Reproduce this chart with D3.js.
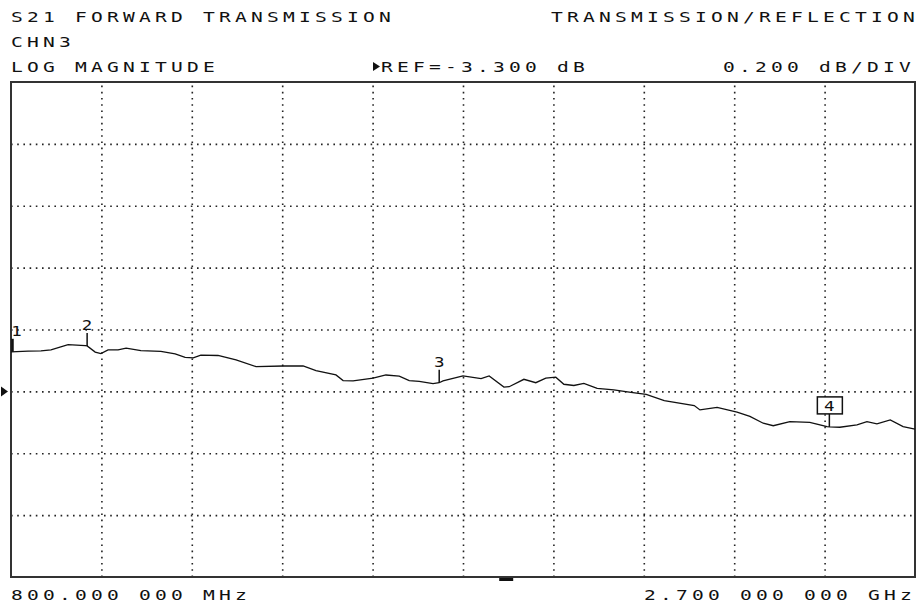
<!DOCTYPE html>
<html>
<head>
<meta charset="utf-8">
<script src="https://cdn.jsdelivr.net/npm/d3@7"></script>
<style>
  body { margin:0; background:#fff; }
  svg text { font-family: "DejaVu Sans Mono", "Liberation Mono", monospace; fill:#111; }
</style>
</head>
<body>
<svg width="919" height="607"></svg>
<script>
// trace: frequency (MHz) vs S21 (dB)
const freqMHz = [800, 836, 863, 884, 920, 956, 960, 977, 989, 1004, 1025, 1042, 1073, 1115, 1145, 1166, 1183, 1199, 1235,
  1273, 1315, 1372, 1414, 1441, 1483, 1498, 1519, 1561, 1588, 1616, 1637, 1658, 1687, 1700, 1708, 1750,
  1788, 1805, 1836, 1847, 1878, 1903, 1924, 1945, 1962, 1983, 2004, 2032, 2067, 2103, 2135, 2173,
  2236, 2248, 2284, 2326, 2353, 2381, 2402, 2437, 2479, 2515, 2521, 2542, 2578, 2599, 2620, 2648, 2675, 2700];
const magDb = [-3.172, -3.170, -3.169, -3.166, -3.149, -3.152, -3.153, -3.173, -3.178, -3.166, -3.166, -3.160, -3.168, -3.171, -3.179, -3.190, -3.192, -3.183, -3.184,
  -3.198, -3.220, -3.218, -3.218, -3.233, -3.247, -3.265, -3.266, -3.257, -3.247, -3.251, -3.265, -3.268, -3.275, -3.272, -3.266, -3.250,
  -3.259, -3.250, -3.286, -3.285, -3.261, -3.272, -3.257, -3.254, -3.277, -3.281, -3.274, -3.290, -3.295, -3.303, -3.310, -3.330,
  -3.346, -3.360, -3.352, -3.367, -3.381, -3.403, -3.411, -3.398, -3.400, -3.414, -3.415, -3.416, -3.408, -3.398, -3.405, -3.392, -3.414, -3.422];

const markerFreqs = [800, 960, 1700, 2520];
const markerLabels = ["1", "2", "3", "4"];
const activeMarker = 3;

const refLevel = -3.3;
const dbPerDiv = 0.2;
const refDiv = 5;        // reference line, divisions from top
const nDivX = 10, nDivY = 8;
const startMHz = 800, stopMHz = 2700;

const headerTexts = [
  { t: "S21 FORWARD TRANSMISSION", x: 12, y: 22 },
  { t: "CHN3", x: 12, y: 47 },
  { t: "LOG MAGNITUDE", x: 12, y: 72 },
  { t: "TRANSMISSION/REFLECTION", x: 552, y: 22 },
  { t: "REF=-3.300 dB", x: 382, y: 72 },
  { t: "0.200 dB/DIV", x: 724, y: 72 },
  { t: "800.000 000 MHz", x: 12, y: 600 },
  { t: "2.700 000 000 GHz", x: 645, y: 600 }
];

const svg = d3.select("svg");
const box = { left: 11, top: 82, right: 915, bottom: 577 };
const innerWidth = box.right - box.left;
const innerHeight = box.bottom - box.top;

const topDb = refLevel + refDiv * dbPerDiv;
const bottomDb = refLevel - (nDivY - refDiv) * dbPerDiv;

const xScale = d3.scaleLinear().domain([startMHz, stopMHz]).range([box.left, box.right]);
const yScale = d3.scaleLinear().domain([bottomDb, topDb]).range([box.bottom, box.top]);

// grid (dotted) via axes
const xTicks = d3.range(1, nDivX).map(i => startMHz + i * (stopMHz - startMHz) / nDivX);
const yTicks = d3.range(1, nDivY).map(i => bottomDb + i * dbPerDiv);

const gx = svg.append("g")
  .attr("transform", `translate(0,${box.bottom})`)
  .call(d3.axisBottom(xScale).tickValues(xTicks).tickSize(-innerHeight).tickFormat(""));
const gy = svg.append("g")
  .attr("transform", `translate(${box.left},0)`)
  .call(d3.axisLeft(yScale).tickValues(yTicks).tickSize(-innerWidth).tickFormat(""));
[gx, gy].forEach(g => {
  g.select(".domain").remove();
  g.selectAll("line")
    .attr("stroke", "#222")
    .attr("stroke-width", 1.6)
    .attr("stroke-dasharray", "1.6,4.6");
});

// frame
svg.append("rect")
  .attr("x", box.left).attr("y", box.top)
  .attr("width", innerWidth).attr("height", innerHeight)
  .attr("fill", "none").attr("stroke", "#333").attr("stroke-width", 2);

// trace
const line = d3.line().x((d, i) => xScale(freqMHz[i])).y(d => yScale(d));
svg.append("path")
  .datum(magDb)
  .attr("d", line)
  .attr("fill", "none").attr("stroke", "#111").attr("stroke-width", 1.3);

// stretched pixel-style text
const sx = 1.4;
const pitch = 16;

// markers
const valueAt = f => {
  const i = d3.bisectLeft(freqMHz, f);
  if (i <= 0) return magDb[0];
  if (i >= freqMHz.length) return magDb[magDb.length - 1];
  const t = (f - freqMHz[i - 1]) / (freqMHz[i] - freqMHz[i - 1]);
  return magDb[i - 1] + t * (magDb[i] - magDb[i - 1]);
};

markerFreqs.forEach((f, i) => {
  const mx = xScale(f) + (i === 0 ? 1.5 : 0);
  const my = yScale(valueAt(f));
  const g = svg.append("g");
  g.append("line")
    .attr("x1", mx).attr("x2", mx).attr("y1", my).attr("y2", my - 13)
    .attr("stroke", "#111").attr("stroke-width", i === 0 ? 2.5 : 1.5);
  if (i === activeMarker) {
    g.append("rect")
      .attr("x", mx - 12).attr("y", my - 30).attr("width", 25).attr("height", 17)
      .attr("fill", "#fff").attr("stroke", "#111").attr("stroke-width", 1.5);
  }
  g.append("text")
    .attr("transform", `translate(${i === 0 ? mx + 4 : mx},${my - 16}) scale(1.25,1)`)
    .attr("text-anchor", "middle")
    .attr("font-size", 14)
    .text(markerLabels[i]);
});

// reference arrow at left
svg.append("path")
  .attr("d", `M1,${yScale(refLevel) - 5}L8,${yScale(refLevel)}L1,${yScale(refLevel) + 5}Z`)
  .attr("fill", "#111");
// small arrow before REF=
svg.append("path")
  .attr("d", `M373,62L380,66.5L373,71Z`)
  .attr("fill", "#111");
// stimulus bar under the frame
svg.append("rect")
  .attr("x", xScale(startMHz + 5.5 * (stopMHz - startMHz) / nDivX) - 9)
  .attr("y", box.bottom + 1).attr("width", 14).attr("height", 3)
  .attr("fill", "#111");

// header / footer texts, one fixed cell per character
svg.selectAll("text.hdr")
  .data(headerTexts)
  .enter().append("text")
  .attr("class", "hdr")
  .attr("transform", d => `translate(${d.x - 1},${d.y}) scale(${sx},1)`)
  .attr("font-size", 14)
  .attr("x", d => d.t.split("").map((c, i) => (i * pitch / sx).toFixed(2)).join(" "))
  .text(d => d.t);
</script>
</body>
</html>
